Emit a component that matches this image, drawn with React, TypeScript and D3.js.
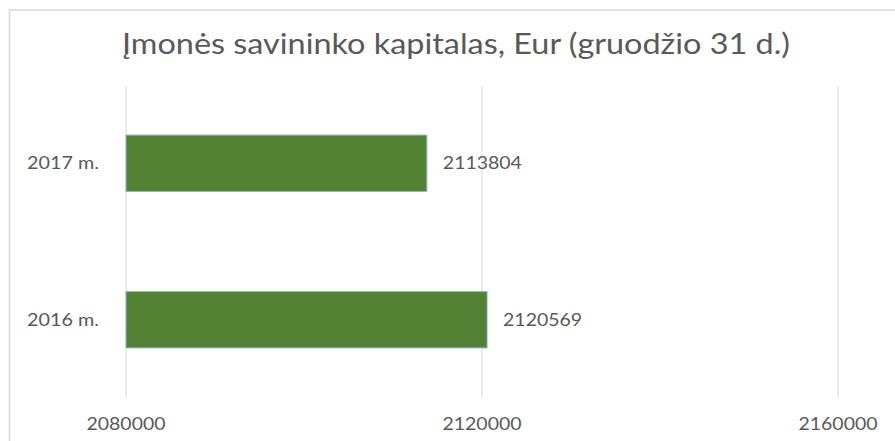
import React from "react";
import * as d3 from "d3";

const categories = ["2017 m.", "2016 m."];
const values = [2113804, 2120569];
const tickValues = [2080000, 2120000, 2160000];
const title = "Įmonės savininko kapitalas, Eur (gruodžio 31 d.)";

export default function App() {
  const W = 895, H = 441;
  const x = d3.scaleLinear().domain([2080000, 2160000]).range([126, 838]);
  const y = d3.scaleBand().domain(categories).range([85, 398]).paddingInner(0.64).paddingOuter(0.32);
  const font = "Lato, 'Open Sans', sans-serif";
  const col = "#595959";
  return (
    <svg width={W} height={H} style={{ position: "absolute", left: 0, top: 0, background: "#fff" }}>
      <rect x={9.5} y={10} width={1000} height={600} fill="#fff" stroke="#d9d9d9" strokeWidth={1.5} />
      <text x={456} y={54} textAnchor="middle" fontFamily={font} fontWeight={400} fontSize={28} fill={col}
        textLength={668} lengthAdjust="spacingAndGlyphs">{title}</text>
      {tickValues.map((t) => (
        <g key={t}>
          <line x1={x(t)} x2={x(t)} y1={85} y2={398} stroke="#d9d9d9" strokeWidth={1} />
          <text x={x(t)} y={430} textAnchor="middle" fontFamily={font} fontSize={17} fill={col}
            textLength={79} lengthAdjust="spacingAndGlyphs">{t}</text>
        </g>
      ))}
      {categories.map((c, i) => {
        const yy = y(c)!;
        const bw = y.bandwidth();
        return (
          <g key={c}>
            <rect x={x(2080000)} y={yy} width={x(values[i]) - x(2080000)} height={bw}
              fill="#548235" stroke="#8db3d9" strokeWidth={1} />
            <text x={99} y={yy + bw / 2 + 6} textAnchor="end" fontFamily={font} fontSize={17} fill={col}
              textLength={72} lengthAdjust="spacingAndGlyphs">{c}</text>
            <text x={x(values[i]) + 16} y={yy + bw / 2 + 6} textAnchor="start" fontFamily={font} fontSize={17} fill={col}
              textLength={79} lengthAdjust="spacingAndGlyphs">{values[i]}</text>
          </g>
        );
      })}
    </svg>
  );
}
